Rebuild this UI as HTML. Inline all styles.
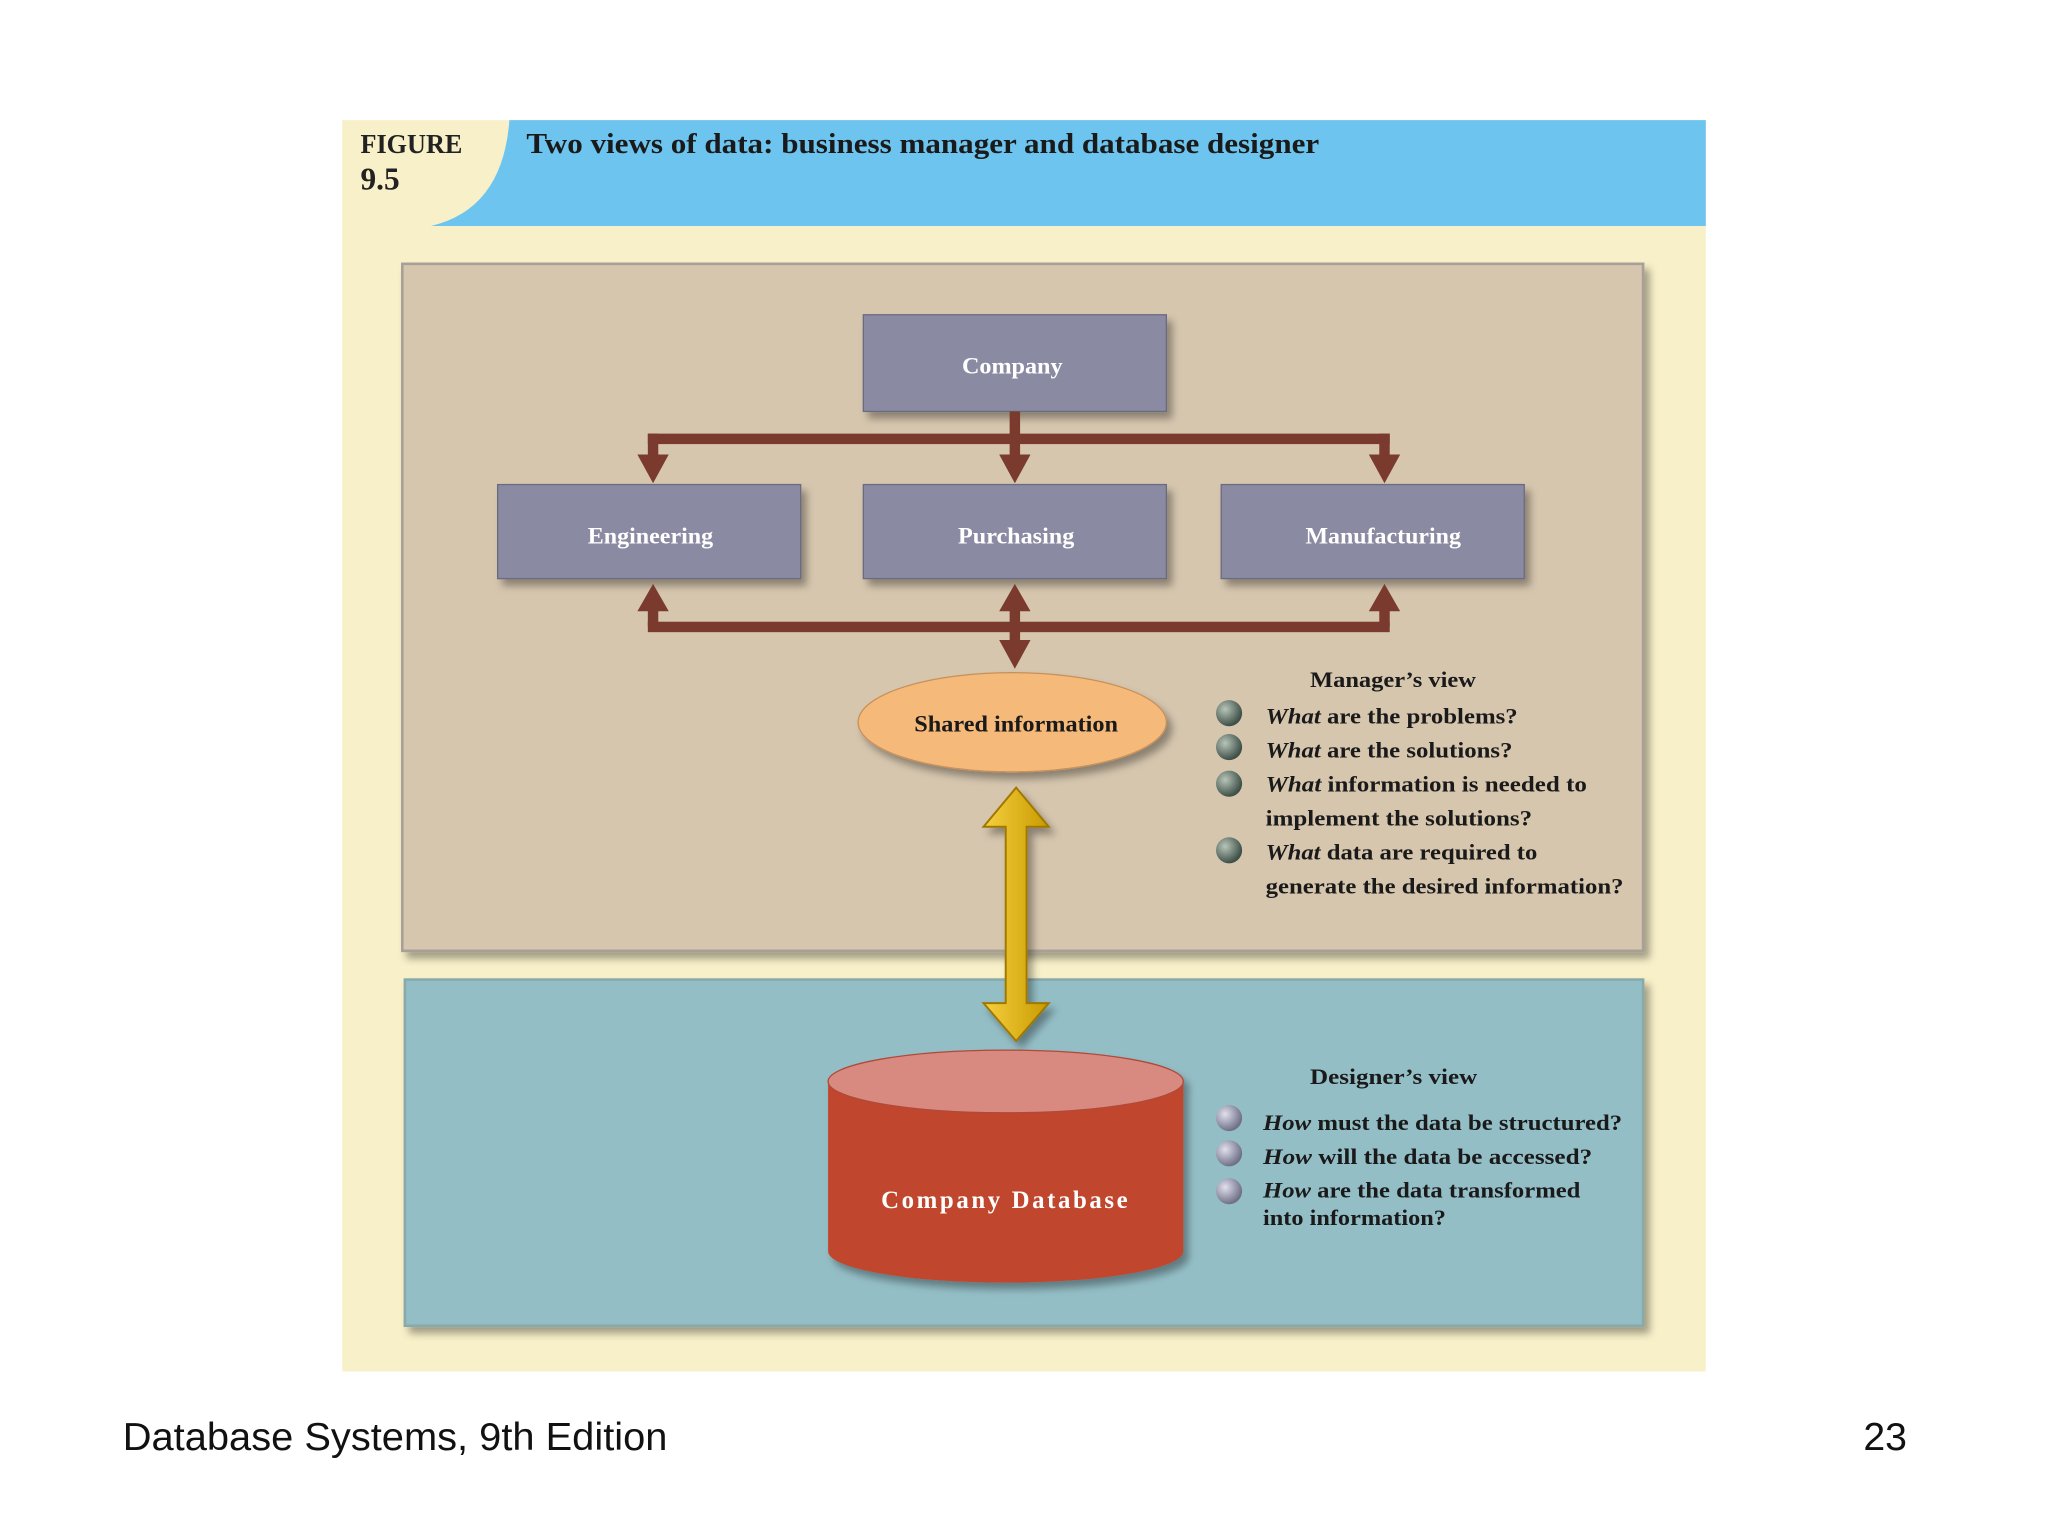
<!DOCTYPE html>
<html><head><meta charset="utf-8"><style>
html,body{margin:0;padding:0;background:#fff;}
svg{display:block;}
</style></head><body>
<svg width="2048" height="1536" viewBox="0 0 1568 1176" xmlns="http://www.w3.org/2000/svg">
<defs>
<filter id="sh" x="-10%" y="-10%" width="130%" height="140%"><feDropShadow dx="4" dy="5" stdDeviation="3" flood-color="#000" flood-opacity="0.35"/></filter>
<radialGradient id="bg1" cx="35%" cy="35%" r="65%"><stop offset="0" stop-color="#b8c4b8"/><stop offset="1" stop-color="#3e5048"/></radialGradient>
<radialGradient id="bg2" cx="35%" cy="35%" r="65%"><stop offset="0" stop-color="#e0e0ee"/><stop offset="1" stop-color="#707088"/></radialGradient>
<linearGradient id="yel" x1="0" x2="1"><stop offset="0" stop-color="#f6d040"/><stop offset="1" stop-color="#c89a00"/></linearGradient>
</defs>
<rect x="262" y="92" width="1044" height="958" fill="#f8f0c9"/>
<path d="M330 92 H1306 V173 H330 Q385 160 390 92 Z" fill="#6cc4ef"/>
<text x="276" y="117" font-family="Liberation Serif,serif" font-weight="bold" font-size="21" fill="#222" textLength="78" lengthAdjust="spacingAndGlyphs">FIGURE</text>
<text x="276" y="145" font-family="Liberation Serif,serif" font-weight="bold" font-size="24" fill="#222">9.5</text>
<text x="403" y="117" font-family="Liberation Serif,serif" font-weight="bold" font-size="22" fill="#1a1a1a" textLength="607" lengthAdjust="spacingAndGlyphs">Two views of data: business manager and database designer</text>

<rect x="308" y="202" width="950" height="526" fill="#d6c6ae" stroke="#a8a098" stroke-width="2" filter="url(#sh)"/>
<rect x="310" y="750" width="948" height="265" fill="#94bec6" stroke="#8aa" stroke-width="2" filter="url(#sh)"/>

<g font-family="Liberation Serif,serif" font-weight="bold" font-size="18" fill="#fff" text-anchor="middle">
<rect x="661" y="241" width="232" height="74" fill="#8a8aa2" stroke="#6a6a80" filter="url(#sh)"/>
<text x="775" y="286" textLength="77" lengthAdjust="spacingAndGlyphs">Company</text>
<rect x="381" y="371" width="232" height="72" fill="#8a8aa2" stroke="#6a6a80" filter="url(#sh)"/>
<text x="498" y="416" textLength="96" lengthAdjust="spacingAndGlyphs">Engineering</text>
<rect x="661" y="371" width="232" height="72" fill="#8a8aa2" stroke="#6a6a80" filter="url(#sh)"/>
<text x="778" y="416" textLength="89" lengthAdjust="spacingAndGlyphs">Purchasing</text>
<rect x="935" y="371" width="232" height="72" fill="#8a8aa2" stroke="#6a6a80" filter="url(#sh)"/>
<text x="1059" y="416" textLength="119" lengthAdjust="spacingAndGlyphs">Manufacturing</text>
</g>

<g fill="#7a3a2e">
<rect x="773" y="315" width="8" height="22"/>
<rect x="496" y="332" width="568" height="8"/>
<rect x="496" y="332" width="8" height="18"/><polygon points="488,348 512,348 500,370"/>
<rect x="773" y="332" width="8" height="18"/><polygon points="765,348 789,348 777,370"/>
<rect x="1056" y="332" width="8" height="18"/><polygon points="1048,348 1072,348 1060,370"/>
<rect x="496" y="476" width="568" height="8"/>
<rect x="496" y="466" width="8" height="14"/><polygon points="488,468 512,468 500,447"/>
<rect x="1056" y="466" width="8" height="14"/><polygon points="1048,468 1072,468 1060,447"/>
<rect x="773" y="466" width="8" height="28"/><polygon points="765,468 789,468 777,447"/><polygon points="765,490 789,490 777,512"/>
</g>

<ellipse cx="775" cy="553" rx="118" ry="38" fill="#f5b97a" stroke="#c8905a" filter="url(#sh)"/>
<text x="778" y="560" font-family="Liberation Serif,serif" font-weight="bold" font-size="18" fill="#1a1a1a" text-anchor="middle" textLength="156" lengthAdjust="spacingAndGlyphs">Shared information</text>

<polygon points="778,603 803,633 786,633 786,768 803,768 778,797 753,768 770,768 770,633 753,633" fill="url(#yel)" stroke="#a07800" stroke-width="1.5" filter="url(#sh)"/>

<g filter="url(#sh)">
<path d="M634 828 V958 A136 24 0 0 0 906 958 V828 Z" fill="#c0462e"/>
<ellipse cx="770" cy="828" rx="136" ry="24" fill="#d98a80" stroke="#b04a38"/>
</g>
<text x="770" y="925" font-family="Liberation Serif,serif" font-weight="bold" font-size="19" fill="#fff" text-anchor="middle" letter-spacing="2">Company Database</text>

<g font-family="Liberation Serif,serif" font-weight="bold" font-size="17" fill="#1a1a1a" lengthAdjust="spacingAndGlyphs">
<text x="1003" y="526" textLength="127" lengthAdjust="spacingAndGlyphs">Manager’s view</text>
<circle cx="941" cy="546" r="10" fill="url(#bg1)"/><text x="969" y="554" textLength="193" lengthAdjust="spacingAndGlyphs"><tspan font-style="italic">What</tspan> are the problems?</text>
<circle cx="941" cy="572" r="10" fill="url(#bg1)"/><text x="969" y="580" textLength="189" lengthAdjust="spacingAndGlyphs"><tspan font-style="italic">What</tspan> are the solutions?</text>
<circle cx="941" cy="600" r="10" fill="url(#bg1)"/><text x="969" y="606" textLength="246" lengthAdjust="spacingAndGlyphs"><tspan font-style="italic">What</tspan> information is needed to</text>
<text x="969" y="632" textLength="204" lengthAdjust="spacingAndGlyphs">implement the solutions?</text>
<circle cx="941" cy="651" r="10" fill="url(#bg1)"/><text x="969" y="658" textLength="208" lengthAdjust="spacingAndGlyphs"><tspan font-style="italic">What</tspan> data are required to</text>
<text x="969" y="684" textLength="274" lengthAdjust="spacingAndGlyphs">generate the desired information?</text>
<text x="1003" y="830" textLength="128" lengthAdjust="spacingAndGlyphs">Designer’s view</text>
<circle cx="941" cy="856" r="10" fill="url(#bg2)"/><text x="967" y="865" textLength="275" lengthAdjust="spacingAndGlyphs"><tspan font-style="italic">How</tspan> must the data be structured?</text>
<circle cx="941" cy="883" r="10" fill="url(#bg2)"/><text x="967" y="891" textLength="252" lengthAdjust="spacingAndGlyphs"><tspan font-style="italic">How</tspan> will the data be accessed?</text>
<circle cx="941" cy="912" r="10" fill="url(#bg2)"/><text x="967" y="917" textLength="243" lengthAdjust="spacingAndGlyphs"><tspan font-style="italic">How</tspan> are the data transformed</text>
<text x="967" y="938" textLength="140" lengthAdjust="spacingAndGlyphs">into information?</text>
</g>

<text x="94" y="1110" font-family="Liberation Sans,sans-serif" font-size="30" fill="#111" textLength="417" lengthAdjust="spacingAndGlyphs">Database Systems, 9th Edition</text>
<text x="1460" y="1110" font-family="Liberation Sans,sans-serif" font-size="30" fill="#111" text-anchor="end">23</text>
</svg>
</body></html>
